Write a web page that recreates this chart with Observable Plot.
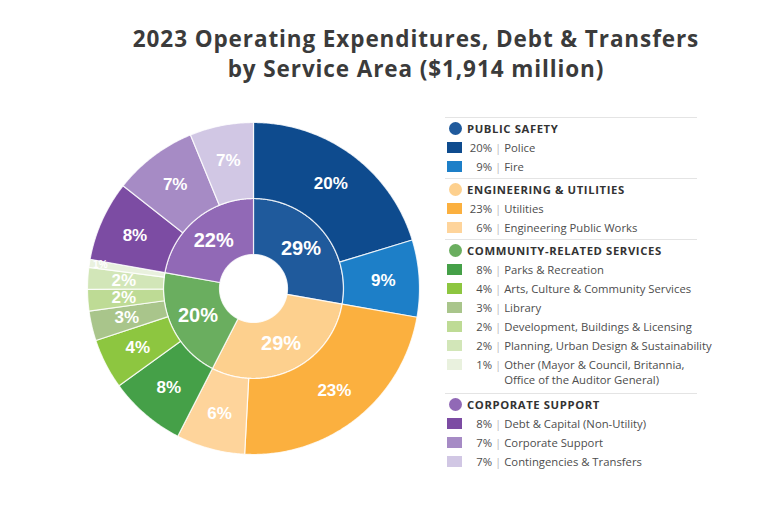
<!DOCTYPE html>
<html><head><meta charset="utf-8">
<script src="https://cdn.jsdelivr.net/npm/d3@7"></script>
<script src="https://cdn.jsdelivr.net/npm/@observablehq/plot@0.6"></script>
<style>
body{margin:0;background:#fff;}
#wrap{position:relative;width:780px;height:519px;overflow:hidden;font-family:"Open Sans",sans-serif;background:#fff;}
#chart{position:absolute;left:0;top:0;}
.ttl{position:absolute;left:66px;width:700px;text-align:center;font-weight:700;font-size:22.5px;letter-spacing:0.9px;line-height:30px;height:30px;color:#3b3b3b;white-space:nowrap;}
#t1{top:24px;}
#t2{top:54px;}
#legend{position:absolute;left:445px;top:117px;width:252px;font-size:11.3px;color:#4d4d4d;}
.grp{border-top:1px solid #e4e4e4;padding:1.5px 0 2.5px 0;width:252px;}
.hdr{display:flex;align-items:center;height:18px;font-weight:700;color:#333;letter-spacing:0.6px;white-space:nowrap;}
.dot{width:13px;height:13px;border-radius:50%;margin-left:4px;margin-right:5px;flex:none;}
.item{display:flex;align-items:flex-start;line-height:19px;white-space:nowrap;}
.item.two{line-height:15px;padding:2px 0 4px 0;}
.sw{width:15px;height:11px;margin:4px 0 0 2px;flex:none;}
.item.two .sw{margin-top:2px;}
.pct{width:30px;text-align:right;flex:none;}
.bar{color:#bbb;margin:0 3px 0 3px;flex:none;}
.lab{white-space:pre;}
</style></head>
<body>
<div id="wrap">
  <div id="chart"></div>
  <div class="ttl" id="t1">2023 Operating Expenditures, Debt &amp; Transfers</div>
  <div class="ttl" id="t2">by Service Area ($1,914 million)</div>
  <div id="legend"></div>
</div>
<script>
// ---- data ----
const groupNames = ["PUBLIC SAFETY", "ENGINEERING & UTILITIES", "COMMUNITY-RELATED SERVICES", "CORPORATE SUPPORT"];
const groupPct = ["29%", "29%", "20%", "22%"];
const groupColors = ["#1f5a9c", "#fdd08e", "#6aae5f", "#9169b6"];

const outerNames = ["Police", "Fire", "Utilities", "Engineering Public Works", "Parks & Recreation",
  "Arts, Culture & Community Services", "Library", "Development, Buildings & Licensing",
  "Planning, Urban Design & Sustainability", "Other (Mayor & Council, Britannia,\nOffice of the Auditor General)",
  "Debt & Capital (Non-Utility)", "Corporate Support", "Contingencies & Transfers"];
const outerPct = ["20%", "9%", "23%", "6%", "8%", "4%", "3%", "2%", "2%", "1%", "8%", "7%", "7%"];
const outerShare = [20.3, 7.5, 23.1, 6.7, 7.5, 4.9, 2.9, 2.1, 2.1, 0.8, 7.8, 8.2, 6.2];
const outerGroup = [0, 0, 1, 1, 2, 2, 2, 2, 2, 2, 3, 3, 3];
const outerColors = ["#0e4b8e", "#1d7fc8", "#fbb03f", "#fed49b", "#45a048", "#8dc640", "#a9c58b",
  "#bedb95", "#d2e6b8", "#e9f1de", "#7c4ca3", "#a68bc5", "#d1c7e4"];

// ---- geometry ----
const W = 780, H = 519, cx = 253, cy = 288;
const R0 = 34, R1 = 90, R2 = 166;
const total = d3.sum(outerShare);
let acc = 0;
const slices = outerShare.map((v, i) => {
  const a0 = acc / total * 2 * Math.PI; acc += v;
  const a1 = acc / total * 2 * Math.PI;
  return {i, a0, a1};
});
const groups = groupNames.map((g, k) => {
  const m = slices.filter(s => outerGroup[s.i] === k);
  return {k, a0: m[0].a0, a1: m[m.length - 1].a1};
});
function sector(a0, a1, r0, r1, id, fill) {
  const n = Math.max(2, Math.ceil((a1 - a0) / (Math.PI / 360)));
  const pts = [];
  for (let j = 0; j <= n; j++) { const a = a0 + (a1 - a0) * j / n; pts.push({x: r1 * Math.sin(a), y: r1 * Math.cos(a), id, fill}); }
  for (let j = n; j >= 0; j--) { const a = a0 + (a1 - a0) * j / n; pts.push({x: r0 * Math.sin(a), y: r0 * Math.cos(a), id, fill}); }
  return pts;
}
const polys = [
  ...groups.flatMap(g => sector(g.a0, g.a1, R0, R1, "g" + g.k, groupColors[g.k])),
  ...slices.flatMap(s => sector(s.a0, s.a1, R1, R2, "s" + s.i, outerColors[s.i]))
];
const outerText = slices.map(s => {
  const a = (s.a0 + s.a1) / 2;
  const small = outerShare[s.i] < 1.5;
  const r = small ? 155 : 130;
  return {x: r * Math.sin(a), y: r * Math.cos(a), t: outerPct[s.i], fs: small ? 10 : 17};
});
const innerText = groups.map(g => {
  const a = (g.a0 + g.a1) / 2, r = (R0 + R1) / 2;
  return {x: r * Math.sin(a), y: r * Math.cos(a), t: groupPct[g.k], fs: 20};
});

const chart = Plot.plot({
  width: W, height: H, margin: 0,
  x: {domain: [-cx, W - cx], axis: null},
  y: {domain: [-(H - cy), cy], axis: null},
  color: {type: "identity"},
  marks: [
    Plot.line(polys, {x: "x", y: "y", z: "id", fill: "fill", stroke: "#ffffff", strokeOpacity: 0.8, strokeWidth: 1.2, curve: "linear-closed"}),
    Plot.text([...outerText, ...innerText], {x: "x", y: "y", text: "t", fontSize: "fs", fill: "white", fontWeight: "bold", fontFamily: "Liberation Sans, Arial, sans-serif"})
  ]
});
document.getElementById("chart").appendChild(chart);

// ---- legend ----
const leg = document.getElementById("legend");
groupNames.forEach((g, k) => {
  const div = document.createElement("div");
  div.className = "grp";
  let html = `<div class="hdr"><span class="dot" style="background:${groupColors[k]}"></span>${g.replace("&", "&amp;")}</div>`;
  outerNames.forEach((n, i) => {
    if (outerGroup[i] !== k) return;
    const two = n.includes("\n");
    html += `<div class="item${two ? " two" : ""}"><span class="sw" style="background:${outerColors[i]}"></span><span class="pct">${outerPct[i]}</span><span class="bar">|</span><span class="lab">${n.replace(/&/g, "&amp;")}</span></div>`;
  });
  div.innerHTML = html;
  leg.appendChild(div);
});
</script>
</body></html>
